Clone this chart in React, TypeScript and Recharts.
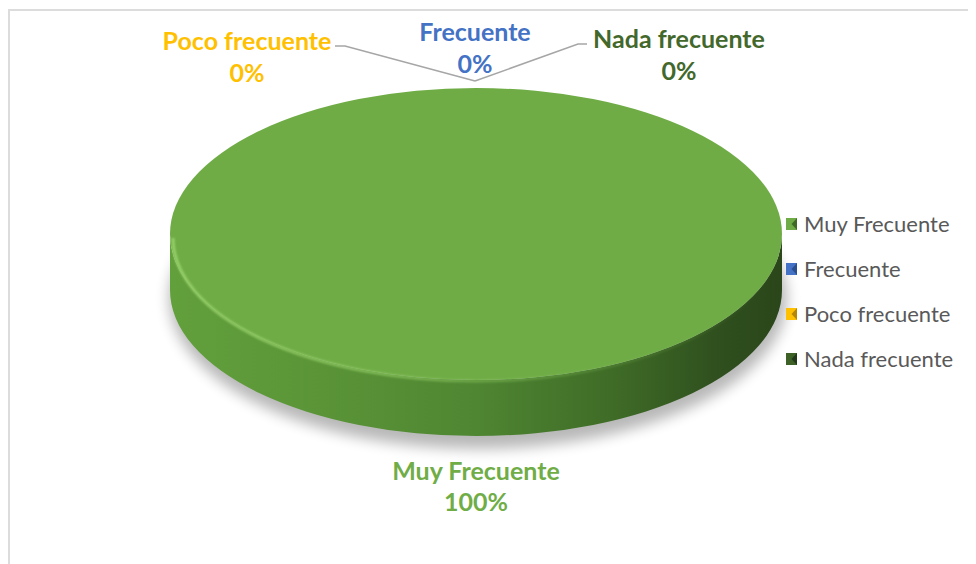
import React from 'react';
import { PieChart, Pie, Cell, Legend } from 'recharts';

const categories = ['Muy Frecuente', 'Frecuente', 'Poco frecuente', 'Nada frecuente'];
const percentages = [100, 0, 0, 0];
const sliceColors = ['#6FAC46', '#4472C4', '#FFC000', '#3D6127'];
const labelColors = ['#70AD47', '#4472C4', '#FFC000', '#43682B'];

const data = categories.map((name, i) => ({ name, value: percentages[i] }));

const W = 968;
const H = 556;
const CX = 468;
const CY = 226;
const R = 306;
const K = 146 / 306; // vertical squash of the tilted pie
const T = 56; // thickness of the pie side
const FONT = 'Lato, "Open Sans", sans-serif';

const pt = (cx: number, cy: number, r: number, a: number, dy = 0) => {
  const rad = (a * Math.PI) / 180;
  return [cx + r * Math.cos(rad), cy - K * r * Math.sin(rad) + dy];
};

const Slice3D = (props: any) => {
  const { cx, cy, outerRadius, startAngle, endAngle, fill } = props;
  const r = outerRadius;
  const ry = r * K;
  const span = Math.abs(endAngle - startAngle);
  if (span < 0.01) return null;
  let topPath = '';
  let sidePath = '';
  if (span >= 359.99) {
    topPath = `M ${cx - r} ${cy} A ${r} ${ry} 0 1 0 ${cx + r} ${cy} A ${r} ${ry} 0 1 0 ${cx - r} ${cy} Z`;
    sidePath = `M ${cx - r} ${cy} A ${r} ${ry} 0 0 0 ${cx + r} ${cy} L ${cx + r} ${cy + T} A ${r} ${ry} 0 0 1 ${cx - r} ${cy + T} Z`;
  } else {
    const lo = Math.min(startAngle, endAngle);
    const hi = Math.max(startAngle, endAngle);
    const pts: number[][] = [];
    for (let a = lo; a <= hi; a += 1) pts.push(pt(cx, cy, r, a));
    pts.push(pt(cx, cy, r, hi));
    topPath = `M ${cx} ${cy} ` + pts.map((p) => `L ${p[0]} ${p[1]}`).join(' ') + ' Z';
    const front: number[][] = [];
    for (let a = lo; a <= hi; a += 1) {
      const n = ((a % 360) + 360) % 360;
      if (n >= 180) front.push(pt(cx, cy, r, a));
    }
    if (front.length > 1) {
      const back = front.slice().reverse().map((p) => [p[0], p[1] + T]);
      sidePath = 'M ' + front.concat(back).map((p) => `${p[0]} ${p[1]}`).join(' L ') + ' Z';
    }
  }
  return (
    <g>
      <defs>
        <linearGradient id="sideGrad" x1={cx - r} x2={cx + r} y1="0" y2="0" gradientUnits="userSpaceOnUse">
          <stop offset="0" stopColor="#62A03C" />
          <stop offset="0.25" stopColor="#5A9437" />
          <stop offset="0.5" stopColor="#4F8632" />
          <stop offset="0.72" stopColor="#3F6C27" />
          <stop offset="0.9" stopColor="#2F4F1E" />
          <stop offset="1" stopColor="#2A461A" />
        </linearGradient>
        <linearGradient id="rimGrad" x1={cx - r} x2={cx + r} y1="0" y2="0" gradientUnits="userSpaceOnUse">
          <stop offset="0" stopColor="#9BD56E" stopOpacity="0.9" />
          <stop offset="0.35" stopColor="#8FCB63" stopOpacity="0.7" />
          <stop offset="0.7" stopColor="#80BD55" stopOpacity="0.25" />
          <stop offset="1" stopColor="#80BD55" stopOpacity="0" />
        </linearGradient>
        <filter id="shadowBlur" x="-20%" y="-20%" width="140%" height="140%">
          <feGaussianBlur stdDeviation="7" />
        </filter>
        <filter id="rimBlur" x="-10%" y="-10%" width="120%" height="120%">
          <feGaussianBlur stdDeviation="1.2" />
        </filter>
      </defs>
      <ellipse cx={cx + 2} cy={cy + T + 8} rx={r + 3} ry={ry + 5} fill="#000" opacity={0.28} filter="url(#shadowBlur)" />
      {sidePath && <path d={sidePath} fill="url(#sideGrad)" />}
      <path d={topPath} fill={fill} />
      {span >= 359.99 && (
        <path
          d={`M ${cx - r + 3} ${cy + 4} A ${r - 3} ${ry - 3} 0 0 0 ${cx + r - 3} ${cy + 4}`}
          fill="none"
          stroke="url(#rimGrad)"
          strokeWidth={3}
          filter="url(#rimBlur)"
        />
      )}
    </g>
  );
};

const renderLabel = (props: any) => {
  const { cx, cy, outerRadius, midAngle, percent, index, name } = props;
  const r = outerRadius;
  const ry = r * K;
  const color = labelColors[index];
  const pctText = `${Math.round(percent * 100)}%`;
  const style = { fontFamily: FONT, fontWeight: 700, fontSize: 25 };
  const rad = (midAngle * Math.PI) / 180;
  const onTop = Math.sin(rad) > 0.5;
  if (!onTop) {
    const x = cx + r * Math.cos(rad);
    const y = cy + ry + T + 34;
    return (
      <g key={`l${index}`}>
        <text x={x} y={y} textAnchor="middle" dominantBaseline="central" fill={color} style={style}>{name}</text>
        <text x={x} y={y + 31} textAnchor="middle" dominantBaseline="central" fill={color} style={style}>{pctText}</text>
      </g>
    );
  }
  const tx = cx;
  const ty = cy - ry;
  const vx = tx - 1;
  const vy = ty - 7;
  // placement of the crowded zero-value labels around the top of the pie
  const place: Record<number, { dx: number; dy: number; line?: number[] }> = {
    1: { dx: -1, dy: -57 },
    2: { dx: -229, dy: -48, line: [-141, -131, -42] },
    3: { dx: 203, dy: -50, line: [111, 102, -44] },
  };
  const p = place[index] || { dx: 0, dy: -56 };
  const x = tx + p.dx;
  const y = ty + p.dy;
  return (
    <g key={`l${index}`}>
      {p.line && (
        <path
          d={`M ${tx + p.line[0]} ${ty + p.line[2]} L ${tx + p.line[1]} ${ty + p.line[2]} L ${vx} ${vy}`}
          fill="none"
          stroke="#A6A6A6"
          strokeWidth={1.5}
        />
      )}
      <text x={x} y={y} textAnchor="middle" dominantBaseline="central" fill={color} style={style}>{name}</text>
      <text x={x} y={y + 32} textAnchor="middle" dominantBaseline="central" fill={color} style={style}>{pctText}</text>
    </g>
  );
};

const markerShade = ['#3F6A25', '#2A4F91', '#B58600', '#22381A'];

const renderLegend = (props: any) => {
  const payload = (props.payload || [])
    .slice()
    .sort((a: any, b: any) => categories.indexOf(a.value) - categories.indexOf(b.value));
  return (
    <div style={{ display: 'flex', flexDirection: 'column' }}>
      {payload.map((entry: any) => {
        const i = categories.indexOf(entry.value);
        return (
          <div key={`leg${i}`} style={{ display: 'flex', alignItems: 'center', height: 45 }}>
            <svg width={11} height={12} style={{ flex: 'none' }}>
              <rect x={0} y={0} width={11} height={12} fill={sliceColors[i]} />
              <polygon points="11,0 11,12 5.5,6" fill={markerShade[i]} />
            </svg>
            <span style={{ marginLeft: 7, fontFamily: FONT, fontSize: 22, color: '#595959', whiteSpace: 'nowrap' }}>
              {entry.value}
            </span>
          </div>
        );
      })}
    </div>
  );
};

export default function App() {
  return (
    <div style={{ position: 'relative', width: W, height: H, overflow: 'hidden', background: '#fff' }}>
      <div
        style={{
          position: 'absolute',
          left: 0,
          top: 1,
          width: 2000,
          height: 2000,
          border: '2px solid #DCDCDC',
          boxSizing: 'border-box',
        }}
      />
      <div style={{ position: 'absolute', left: 0, top: 0 }}>
        <PieChart width={W} height={H} margin={{ top: 0, right: 0, bottom: 0, left: 0 }}>
          <Pie
            data={data}
            dataKey="value"
            nameKey="name"
            cx={CX}
            cy={CY}
            outerRadius={R}
            startAngle={90}
            endAngle={-270}
            stroke="none"
            isAnimationActive={false}
            shape={Slice3D}
            label={renderLabel}
            labelLine={false}
          >
            {data.map((d, i) => (
              <Cell key={d.name} fill={sliceColors[i]} />
            ))}
          </Pie>
          <Legend
            layout="vertical"
            align="right"
            verticalAlign="top"
            content={renderLegend}
            wrapperStyle={{ left: 778, top: 193, width: 190 }}
          />
        </PieChart>
      </div>
    </div>
  );
}
